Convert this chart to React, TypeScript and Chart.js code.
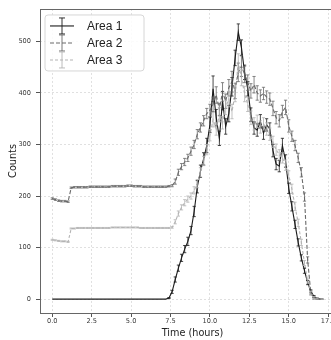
import React, { useEffect, useRef } from "react";
import { Chart, registerables } from "chart.js";
Chart.register(...registerables);

const times = [0,0.2,0.4,0.6,0.8,1,1.2,1.4,1.6,1.8,2,2.2,2.4,2.6,2.8,3,3.2,3.4,3.6,3.8,4,4.2,4.4,4.6,4.8,5,5.2,5.4,5.6,5.8,6,6.2,6.4,6.6,6.8,7,7.2,7.4,7.6,7.8,8,8.2,8.4,8.6,8.8,9,9.2,9.4,9.6,9.8,10,10.2,10.4,10.6,10.8,11,11.2,11.4,11.6,11.8,12,12.2,12.4,12.6,12.8,13,13.2,13.4,13.6,13.8,14,14.2,14.4,14.6,14.8,15,15.2,15.4,15.6,15.8,16,16.2,16.4,16.6,16.8,17,17.2];

const area1 = [0,0,0,0,0,0,0,0,0,0,0,0,0,0,0,0,0,0,0,0,0,0,0,0,0,0,0,0,0,0,0,0,0,0,0,0,0,
  2,14,38,60,80,97,112,133,170,218,248,272,298,338,408,352,312,385,335,360,412,468,518,488,440,408,358,332,328,345,322,338,330,288,262,258,298,268,215,180,145,110,80,55,32,15,5,1,0,0];
const area1Err = [0,0,0,0,0,0,0,0,0,0,0,0,0,0,0,0,0,0,0,0,0,0,0,0,0,0,0,0,0,0,0,0,0,0,0,0,0,
  1,3,5,6,7,7,8,8,10,12,12,12,14,15,25,16,14,18,15,16,18,15,16,15,14,14,13,12,12,13,12,12,12,12,11,11,14,12,10,9,8,7,6,5,4,3,2,1,0,0];

const area2 = [195,193,191,190,190,189,216,217,217,217,217,217,218,218,218,218,218,218,218,219,219,219,219,219,220,220,219,219,219,218,218,218,218,218,218,218,218,
  219,220,228,246,257,266,274,287,300,320,333,346,360,366,378,396,368,402,384,410,422,404,440,452,436,420,404,416,400,394,399,392,388,370,352,346,364,372,336,316,298,274,246,198,76,12,2,1,0,0];
const area2Err = [1.5,1.5,1.5,1.5,1.5,1.5,1.5,1.5,1.5,1.5,1.5,1.5,1.5,1.5,1.5,1.5,1.5,1.5,1.5,1.5,1.5,1.5,1.5,1.5,1.5,1.5,1.5,1.5,1.5,1.5,1.5,1.5,1.5,1.5,1.5,1.5,1.5,
  1.5,2,5,6,6,7,7,8,8,9,9,10,10,12,14,16,12,18,14,16,20,15,18,20,16,15,14,16,14,12,12,12,12,14,12,12,12,14,12,10,10,9,9,8,6,4,2,1,0,0];

const area3 = [115,114,113,112,112,111,137,137,138,138,138,138,138,138,138,138,138,138,138,139,139,139,139,139,139,139,139,139,138,138,138,138,138,138,138,138,138,
  138,139,150,166,178,187,194,200,211,224,246,268,290,318,348,330,358,342,372,388,364,398,458,430,398,378,352,340,345,334,340,330,320,305,290,280,274,260,240,214,180,148,110,70,35,12,3,1,0,0];
const area3Err = [1,1,1,1,1,1,1,1,1,1,1,1,1,1,1,1,1,1,1,1,1,1,1,1,1,1,1,1,1,1,1,1,1,1,1,1,1,
  1,1.5,4,5,5,6,6,6,7,8,9,9,10,11,14,12,14,12,14,15,14,15,18,16,15,14,13,12,12,12,12,12,12,11,11,10,10,10,9,9,8,7,6,5,4,3,2,1,0,0];

const seriesLabels = ["Area 1", "Area 2", "Area 3"];
const xTicks = [0, 2.5, 5, 7.5, 10, 12.5, 15, 17.5];
const yTicks = [0, 100, 200, 300, 400, 500];
const xTitle = "Time (hours)";
const yTitle = "Counts";

const errorBarPlugin = {
  id: "errorBars",
  afterDatasetsDraw(chart: any) {
    const { ctx, chartArea, scales } = chart;
    const x = scales.x, y = scales.y;
    ctx.save();
    ctx.beginPath();
    ctx.rect(chartArea.left, chartArea.top, chartArea.width, chartArea.height);
    ctx.clip();
    chart.data.datasets.forEach((ds: any) => {
      const errs = ds.errors;
      if (!errs) return;
      ctx.strokeStyle = ds.borderColor;
      ctx.lineWidth = 0.8;
      ctx.setLineDash([]);
      ds.data.forEach((p: any, i: number) => {
        const e = errs[i];
        if (!e) return;
        const px = x.getPixelForValue(p.x);
        const y1 = y.getPixelForValue(p.y - e);
        const y2 = y.getPixelForValue(p.y + e);
        ctx.beginPath();
        ctx.moveTo(px, y1); ctx.lineTo(px, y2);
        ctx.moveTo(px - 1.6, y1); ctx.lineTo(px + 1.6, y1);
        ctx.moveTo(px - 1.6, y2); ctx.lineTo(px + 1.6, y2);
        ctx.stroke();
      });
    });
    ctx.restore();
  },
};

const framePlugin = {
  id: "frame",
  afterDraw(chart: any) {
    const { ctx, chartArea: a } = chart;
    ctx.save();
    ctx.strokeStyle = "#666";
    ctx.lineWidth = 1;
    ctx.setLineDash([]);
    ctx.strokeRect(Math.round(a.left) + 0.5, Math.round(a.top) + 0.5, Math.round(a.width), Math.round(a.height));
    ctx.restore();
  },
};

const legendPlugin = {
  id: "boxLegend",
  afterDraw(chart: any) {
    const { ctx, chartArea: a } = chart;
    const x0 = a.left + 5, y0 = a.top + 6, w = 99, h = 56, r = 3;
    ctx.save();
    ctx.beginPath();
    ctx.moveTo(x0 + r, y0);
    ctx.arcTo(x0 + w, y0, x0 + w, y0 + h, r);
    ctx.arcTo(x0 + w, y0 + h, x0, y0 + h, r);
    ctx.arcTo(x0, y0 + h, x0, y0, r);
    ctx.arcTo(x0, y0, x0 + w, y0, r);
    ctx.closePath();
    ctx.fillStyle = "rgba(255,255,255,0.85)";
    ctx.fill();
    ctx.strokeStyle = "#d6d6d6";
    ctx.lineWidth = 1;
    ctx.stroke();
    chart.data.datasets.forEach((ds: any, i: number) => {
      const cy = y0 + 11 + i * 17;
      ctx.strokeStyle = ds.borderColor;
      ctx.lineWidth = 1.1;
      ctx.setLineDash(ds.borderDash || []);
      ctx.beginPath();
      ctx.moveTo(x0 + 5, cy);
      ctx.lineTo(x0 + 29, cy);
      ctx.stroke();
      ctx.setLineDash([]);
      ctx.lineWidth = 0.9;
      const cx = x0 + 17;
      ctx.beginPath();
      ctx.moveTo(cx, cy - 8); ctx.lineTo(cx, cy + 8);
      ctx.moveTo(cx - 3, cy - 8); ctx.lineTo(cx + 3, cy - 8);
      ctx.moveTo(cx - 3, cy + 8); ctx.lineTo(cx + 3, cy + 8);
      ctx.stroke();
      ctx.fillStyle = "#222";
      ctx.font = "12px 'Liberation Sans', Arial, sans-serif";
      ctx.textBaseline = "middle";
      ctx.textAlign = "left";
      ctx.fillText(ds.label, x0 + 42, cy + 0.5);
    });
    ctx.restore();
  },
};

export default function App() {
  const ref = useRef<HTMLCanvasElement>(null);
  useEffect(() => {
    const canvas = ref.current!;
    const pts = (vals: number[]) => vals.map((v, i) => ({ x: times[i], y: v }));
    const chart = new Chart(canvas, {
      type: "line",
      data: {
        datasets: [
          { label: seriesLabels[0], data: pts(area1), errors: area1Err, borderColor: "#1c1c1c", borderWidth: 1.1, borderDash: [], pointRadius: 0, tension: 0, fill: false, order: 3 } as any,
          { label: seriesLabels[1], data: pts(area2), errors: area2Err, borderColor: "#6a6a6a", borderWidth: 1.1, borderDash: [4, 2], pointRadius: 0, tension: 0, fill: false, order: 2 } as any,
          { label: seriesLabels[2], data: pts(area3), errors: area3Err, borderColor: "#b4b4b4", borderWidth: 1.1, borderDash: [3, 2], pointRadius: 0, tension: 0, fill: false, order: 1 } as any,
        ],
      },
      options: {
        animation: false,
        responsive: false,
        devicePixelRatio: 1,
        layout: { padding: { left: 0, top: 6, right: 15, bottom: 0 } },
        plugins: { legend: { display: false }, tooltip: { enabled: false } },
        scales: {
          x: {
            type: "linear",
            min: -0.78,
            max: 18.57,
            afterBuildTicks: (s: any) => { s.ticks = xTicks.map((v) => ({ value: v })); },
            afterFit: (s: any) => { s.height = 27; },
            ticks: {
              font: { family: "'DejaVu Sans', sans-serif", size: 6.6 },
              color: "#3a3a3a",
              padding: 0,
              maxRotation: 0,
              callback: (v: any) => Number(v).toFixed(1),
            },
            grid: { color: "#d9d9d9", lineWidth: 0.8, tickColor: "#555", tickLength: 4, tickWidth: 1, tickBorderDash: [] },
            border: { display: false, dash: [2, 2] },
            title: { display: true, text: xTitle, font: { family: "'DejaVu Sans', sans-serif", size: 9.7 }, color: "#222", padding: { top: 0, bottom: 1 } },
          },
          y: {
            type: "linear",
            min: -27,
            max: 563,
            afterBuildTicks: (s: any) => { s.ticks = yTicks.map((v) => ({ value: v })); },
            afterFit: (s: any) => { s.width = 40; },
            ticks: {
              font: { family: "'DejaVu Sans', sans-serif", size: 6.6 },
              color: "#3a3a3a",
              padding: 5,
              callback: (v: any) => String(v),
            },
            grid: { color: "#d9d9d9", lineWidth: 0.8, tickColor: "#555", tickLength: 4, tickWidth: 1, tickBorderDash: [] },
            border: { display: false, dash: [2, 2] },
            title: { display: true, text: yTitle, font: { family: "'DejaVu Sans', sans-serif", size: 9.7 }, color: "#222", padding: { top: 8, bottom: 0 } },
          },
        },
      } as any,
      plugins: [errorBarPlugin, framePlugin, legendPlugin],
    });
    return () => chart.destroy();
  }, []);
  return (
    <div style={{ position: "fixed", left: 0, top: 0, width: 331, height: 340, overflow: "hidden", background: "#fff" }}>
      <canvas ref={ref} width={360} height={340} style={{ display: "block" }} />
    </div>
  );
}
